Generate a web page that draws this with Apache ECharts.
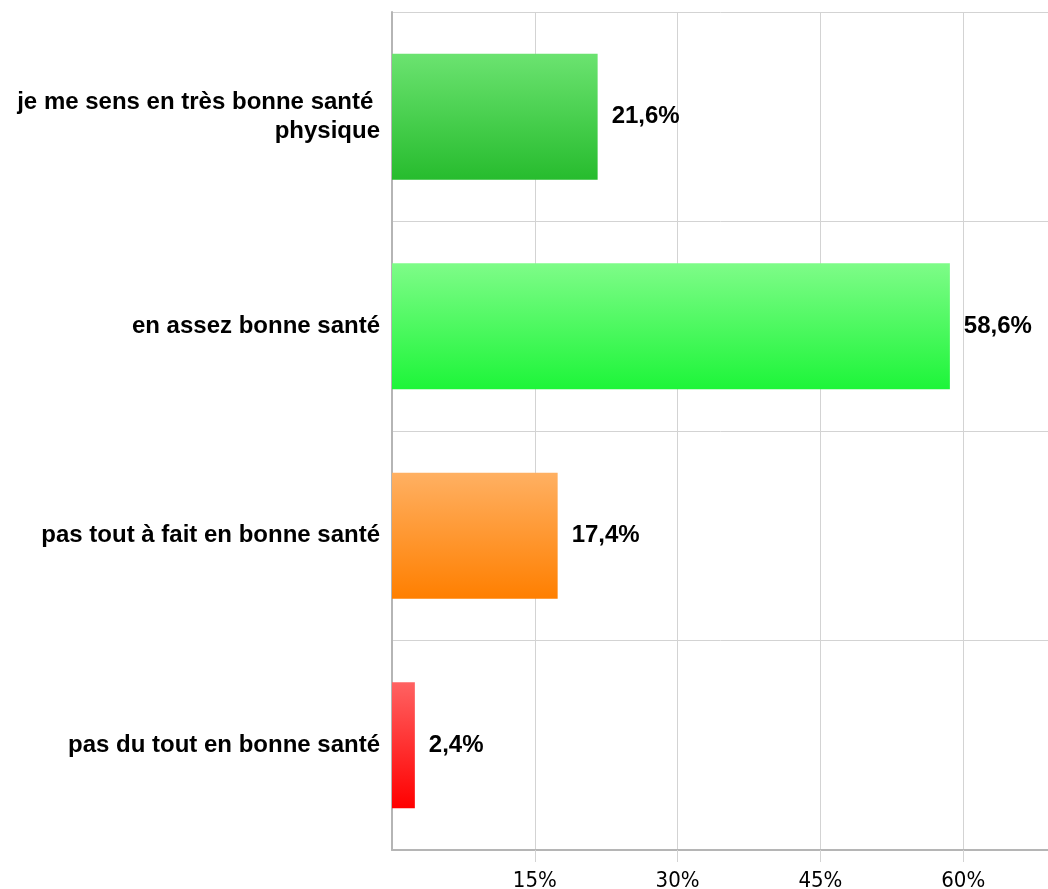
<!DOCTYPE html>
<html>
<head>
<meta charset="utf-8">
<script src="https://cdn.jsdelivr.net/npm/echarts@6/dist/echarts.min.js"></script>
<style>
    html, body { margin: 0; padding: 0; background: #fff; }
    #main { width: 1048px; height: 889px; }
</style>
</head>
<body>
<div id="main"></div>
<script>
// 类别（从上到下）
var categories = [
    'je me sens en très bonne santé \nphysique',
    'en assez bonne santé',
    'pas tout à fait en bonne santé',
    'pas du tout en bonne santé'
];
var values = [21.6, 58.6, 17.4, 2.4];
var tickValues = [15, 30, 45, 60, 75];

// 渐变色 上 -> 下
var barColors = [
    ['#6be370', '#27bc2e'],
    ['#7efc88', '#1df539'],
    ['#ffb062', '#ff7f00'],
    ['#ff6262', '#ff0000']
];

function showChart() {
    var myChart = echarts.init(document.getElementById('main'));

    var seriesData = [];
    for (let i = 0; i < values.length; i++) {
        seriesData.push({
            value: values[i],
            itemStyle: {
                color: new echarts.graphic.LinearGradient(0, 0, 0, 1, [
                    { offset: 0, color: barColors[i][0] },
                    { offset: 1, color: barColors[i][1] }
                ])
            }
        });
    }

    var option = {
        animation: false,
        grid: {
            left: 392,
            top: 12,
            bottom: 39,
            right: -58,
            containLabel: false,
            outerBoundsMode: 'none'
        },
        xAxis: {
            type: 'value',
            min: 0,
            max: 75,
            interval: 15,
            axisLine: { show: true, lineStyle: { color: '#b5b5b5', width: 2 } },
            axisTick: {
                show: true,
                length: 12,
                customValues: tickValues,
                lineStyle: { color: '#d3d3d3', width: 1 }
            },
            axisLabel: {
                customValues: tickValues,
                formatter: function (v) { return v + '%'; },
                margin: 20,
                color: '#000',
                fontFamily: 'DejaVu Sans Condensed',
                fontSize: 22
            },
            splitLine: { show: true, lineStyle: { color: '#d3d3d3', width: 1 } }
        },
        yAxis: {
            type: 'category',
            inverse: true,
            data: categories,
            axisLine: { show: true, lineStyle: { color: '#b5b5b5', width: 2 } },
            axisTick: { show: false },
            axisLabel: {
                margin: 12,
                color: '#000',
                fontFamily: 'Liberation Sans',
                fontWeight: 'bold',
                fontSize: 24,
                lineHeight: 29,
                align: 'right'
            },
            splitLine: { show: true, lineStyle: { color: '#d3d3d3', width: 1 } }
        },
        series: [{
            type: 'bar',
            data: seriesData,
            barWidth: 126,
            label: {
                show: true,
                position: 'right',
                distance: 14,
                color: '#000',
                fontFamily: 'Liberation Sans',
                fontWeight: 'bold',
                fontSize: 24,
                formatter: function (p) { return String(p.value).replace('.', ',') + '%'; }
            }
        }]
    };

    myChart.setOption(option);
}

showChart();
</script>
</body>
</html>
